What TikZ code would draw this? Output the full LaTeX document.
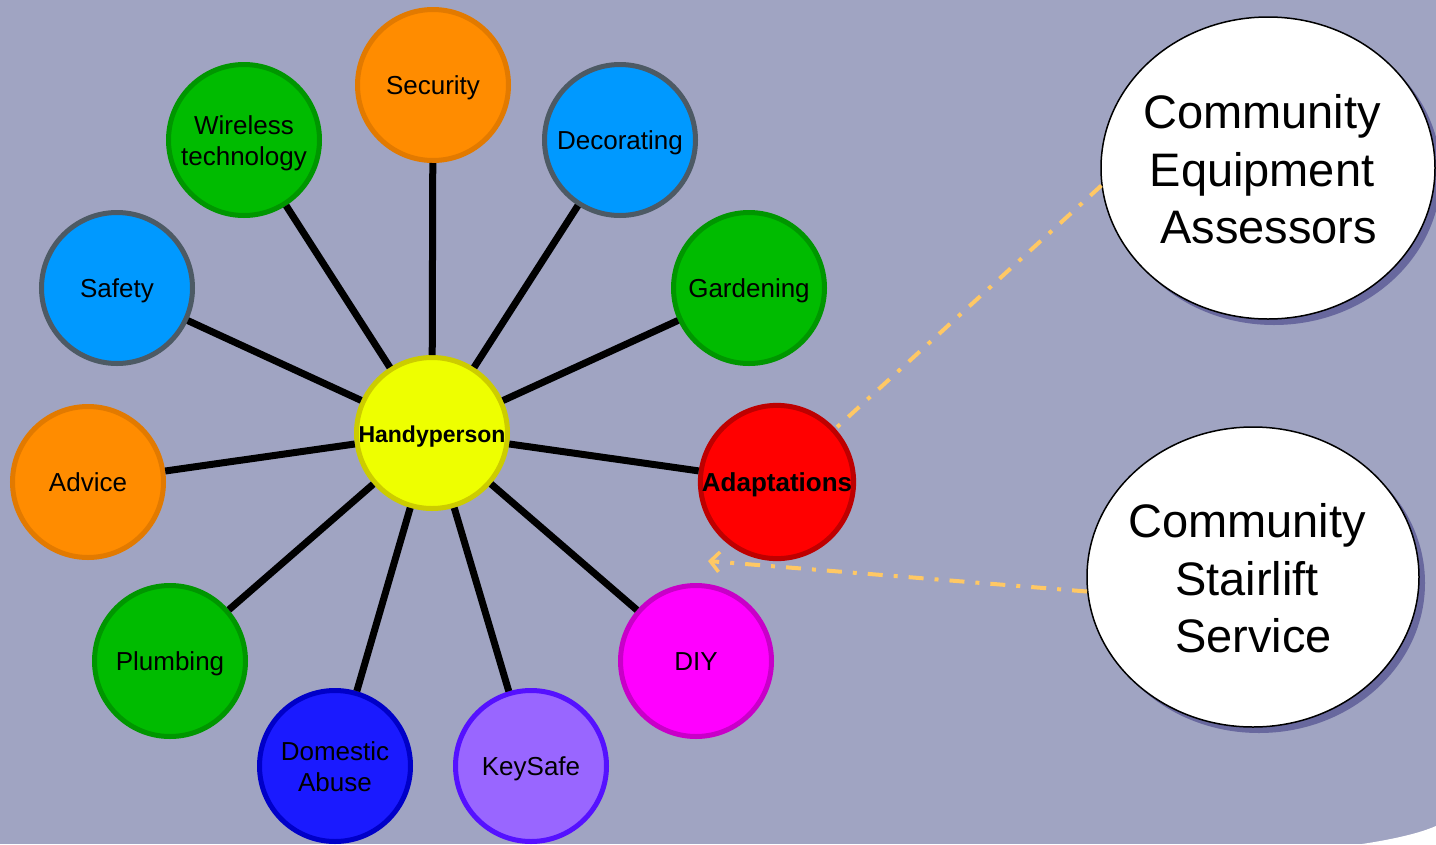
\documentclass[tikz,border=0pt]{standalone}
\usepackage{fontspec}
\setmainfont{Liberation Sans}
\usetikzlibrary{arrows.meta,shapes.geometric}
\definecolor{bg}{RGB}{160,164,194}
\definecolor{shadowc}{RGB}{104,104,158}
\definecolor{dashc}{RGB}{255,200,100}
\definecolor{orF}{RGB}{255,140,0}\definecolor{orB}{RGB}{226,122,0}
\definecolor{blF}{RGB}{0,153,255}\definecolor{blB}{RGB}{77,90,100}
\definecolor{grF}{RGB}{0,187,0}\definecolor{grB}{RGB}{0,150,0}
\definecolor{yeF}{RGB}{238,255,0}\definecolor{yeB}{RGB}{204,204,0}
\definecolor{reF}{RGB}{255,0,0}\definecolor{reB}{RGB}{190,0,0}
\definecolor{maF}{RGB}{255,0,255}\definecolor{maB}{RGB}{200,0,200}
\definecolor{dbF}{RGB}{26,26,255}\definecolor{dbB}{RGB}{0,0,200}
\definecolor{ksF}{RGB}{153,102,255}\definecolor{ksB}{RGB}{85,17,255}
\newcommand{\lowtext}[1]{\raisebox{-3.5pt}[\height][\depth]{\begin{tabular}{@{}c@{}}#1\end{tabular}}}
\newcommand{\bigtext}[1]{\raisebox{-6.5pt}[\height][\depth]{\begin{tabular}{@{}c@{\hspace{12pt}}}#1\end{tabular}}}
\tikzset{
  bubble/.style={circle, line width=5pt, minimum size=151pt, inner sep=0pt,
    font=\fontsize{26}{31.5}\selectfont},
  spoke/.style={line width=7pt, black},
  bigell/.style={ellipse, draw=black, line width=1.5pt, fill=white, inner sep=-60pt,
    font=\fontsize{47}{57.5}\selectfont},
  link/.style={dashc, line width=4pt, dash pattern=on 15pt off 11pt on 4pt off 11pt}
}
\begin{document}
\begin{tikzpicture}[x=1pt,y=-1pt]
\fill[bg] (0,0) rectangle (1436,844);
\useasboundingbox (0,0) rectangle (1436,844);
\fill[white] (1362,844) .. controls (1395,839) and (1420,833) .. (1436,826) -- (1436,844) -- cycle;

% shadows of the big ellipses
\fill[shadowc] (1274,174) ellipse [x radius=167, y radius=151];
\fill[shadowc] (1259,583) ellipse [x radius=166, y radius=150];

\node[bigell, minimum width=334pt, minimum height=302pt] (cea) at (1268,168)
  {\bigtext{Community\\Equipment\\\ Assessors}};
\node[bigell, minimum width=332pt, minimum height=300pt] (css) at (1253,577)
  {\bigtext{Community\\Stairlift\\\ Service}};

\coordinate (tip) at (708,561);

\node[bubble, fill=yeF, draw=yeB, font=\fontsize{23}{28}\selectfont\bfseries] (hp) at (432,433) {\lowtext{Handyperson}};
\node[bubble, fill=orF, draw=orB] (sec) at (433,85) {\lowtext{Security}};
\node[bubble, fill=blF, draw=blB] (dec) at (620,140) {\lowtext{Decorating}};
\node[bubble, fill=grF, draw=grB] (wir) at (244,140) {\lowtext{Wireless\\technology}};
\node[bubble, fill=grF, draw=grB] (gar) at (749,288) {\lowtext{Gardening}};
\node[bubble, fill=blF, draw=blB] (saf) at (117,288) {\lowtext{Safety}};
\node[bubble, fill=orF, draw=orB] (adv) at (88,482) {\lowtext{Advice}};
\node[bubble, fill=reF, draw=reB, font=\fontsize{26}{31.5}\selectfont\bfseries] (ada) at (777,482) {\lowtext{Adaptations}};
\node[bubble, fill=grF, draw=grB] (plu) at (170,661) {\lowtext{Plumbing}};
\node[bubble, fill=maF, draw=maB] (diy) at (696,661) {\lowtext{DIY}};
\node[bubble, fill=dbF, draw=dbB] (dom) at (335,766) {\lowtext{Domestic\\Abuse}};
\node[bubble, fill=ksF, draw=ksB] (key) at (531,766) {\lowtext{KeySafe}};

% spokes (drawn between node borders)
\foreach \n in {sec,dec,wir,gar,saf,adv,ada,plu,diy,dom,key}{
  \draw[spoke] (hp) -- (\n);
}

% dashed links
\draw[link] (cea.186) -- (ada);
\draw[link, -{Straight Barb[length=9pt,width=20pt,line width=3.5pt]}] (css.185) -- (tip);
\end{tikzpicture}
\end{document}
